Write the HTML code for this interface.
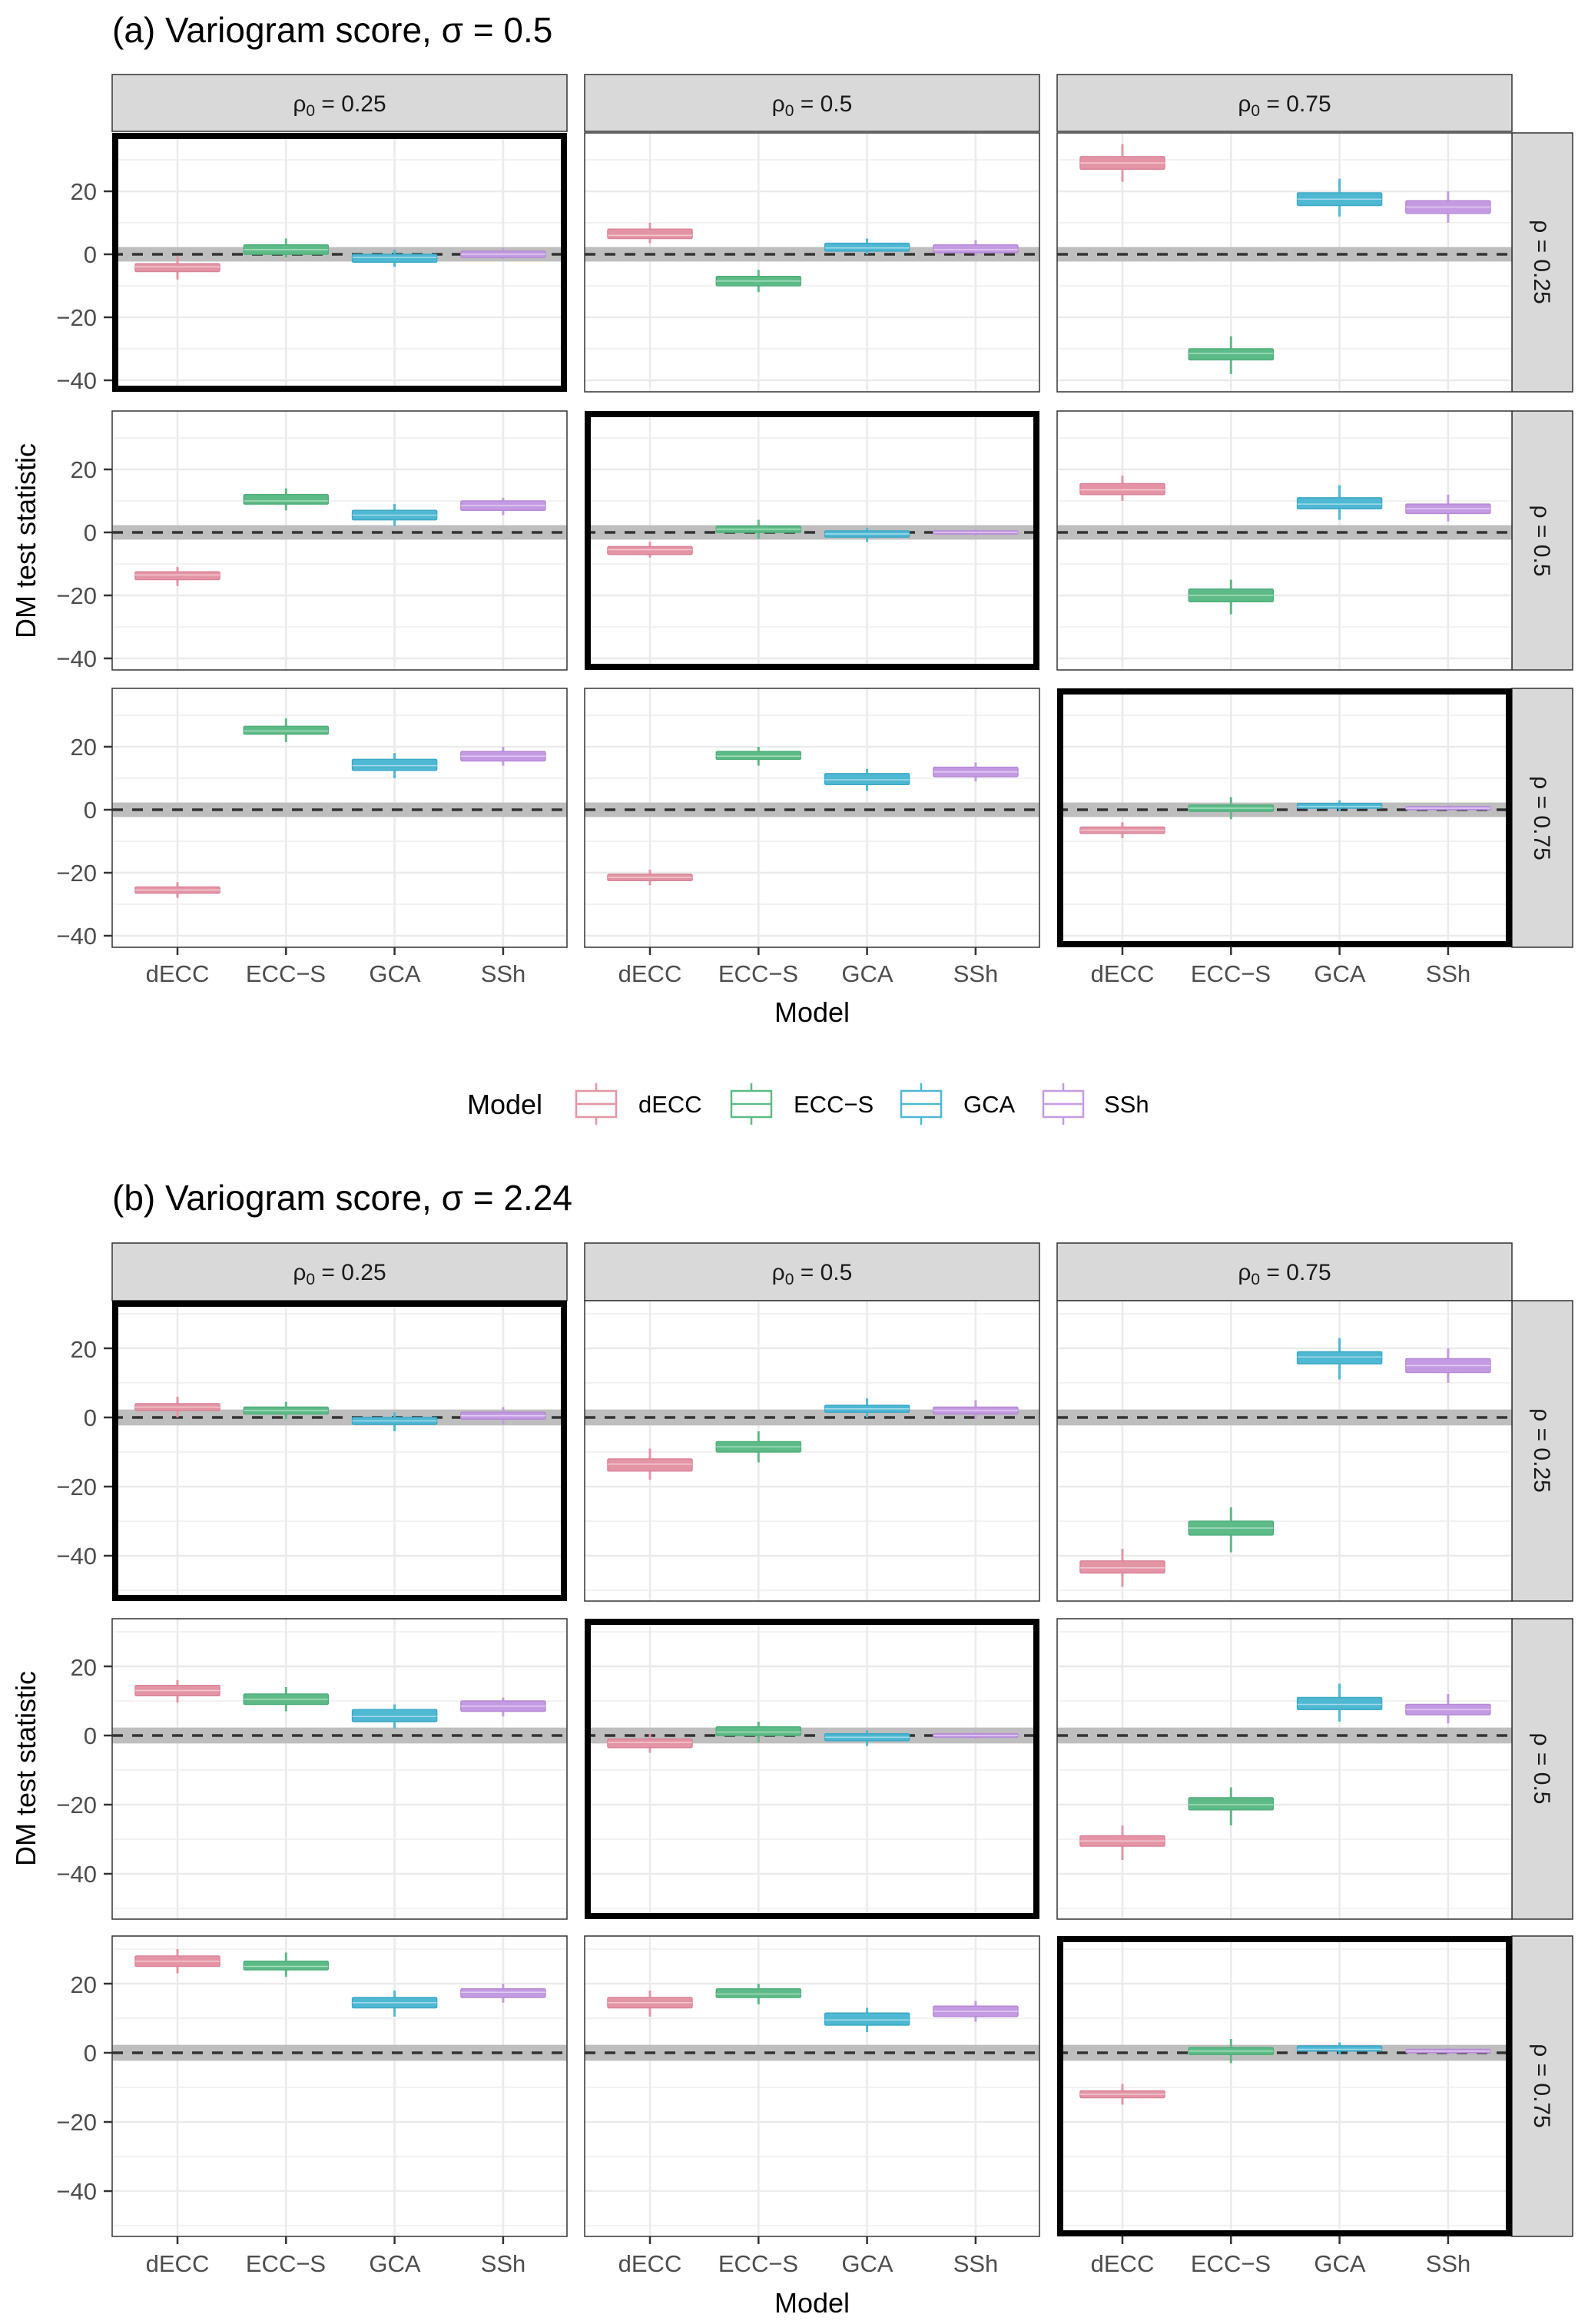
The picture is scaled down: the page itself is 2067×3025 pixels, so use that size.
<!DOCTYPE html>
<html><head><meta charset="utf-8"><style>
html,body{margin:0;padding:0;background:#fff}
svg{display:block}
text{font-family:"Liberation Sans",sans-serif}
.t{font-size:31px;fill:#4d4d4d}
.s{font-size:30px;fill:#1a1a1a}
.ti{font-size:46px;fill:#000}
.ax{font-size:36px;fill:#000}
.lg{font-size:31px;fill:#000}
</style></head><body>
<svg id="c" width="2067" height="3025" viewBox="0 0 2067 3025" xmlns="http://www.w3.org/2000/svg">
<g id="geo"></g>
<!-- titles -->
<text class="ti" x="146" y="55">(a) Variogram score,  σ = 0.5</text>
<text class="ti" x="146" y="1575">(b) Variogram score,  σ = 2.24</text>
<!-- strip labels a -->
<text class="s" x="442" y="145" text-anchor="middle">ρ<tspan font-size="21" dy="6">0</tspan><tspan dy="-6"> = 0.25</tspan></text>
<text class="s" x="1057" y="145" text-anchor="middle">ρ<tspan font-size="21" dy="6">0</tspan><tspan dy="-6"> = 0.5</tspan></text>
<text class="s" x="1672" y="145" text-anchor="middle">ρ<tspan font-size="21" dy="6">0</tspan><tspan dy="-6"> = 0.75</tspan></text>
<text class="s" x="442" y="1666" text-anchor="middle">ρ<tspan font-size="21" dy="6">0</tspan><tspan dy="-6"> = 0.25</tspan></text>
<text class="s" x="1057" y="1666" text-anchor="middle">ρ<tspan font-size="21" dy="6">0</tspan><tspan dy="-6"> = 0.5</tspan></text>
<text class="s" x="1672" y="1666" text-anchor="middle">ρ<tspan font-size="21" dy="6">0</tspan><tspan dy="-6"> = 0.75</tspan></text>
<!-- right strips -->
<text class="s" transform="translate(1997,341) rotate(90)" text-anchor="middle">ρ = 0.25</text>
<text class="s" transform="translate(1997,704) rotate(90)" text-anchor="middle">ρ = 0.5</text>
<text class="s" transform="translate(1997,1065) rotate(90)" text-anchor="middle">ρ = 0.75</text>
<text class="s" transform="translate(1997,1888) rotate(90)" text-anchor="middle">ρ = 0.25</text>
<text class="s" transform="translate(1997,2302) rotate(90)" text-anchor="middle">ρ = 0.5</text>
<text class="s" transform="translate(1997,2715) rotate(90)" text-anchor="middle">ρ = 0.75</text>
<!-- y ticks a -->
<g class="t" text-anchor="end">
<text x="126" y="260">20</text><text x="126" y="342">0</text><text x="126" y="424">−20</text><text x="126" y="506">−40</text>
<text x="126" y="622">20</text><text x="126" y="704">0</text><text x="126" y="786">−20</text><text x="126" y="868">−40</text>
<text x="126" y="983">20</text><text x="126" y="1065">0</text><text x="126" y="1147">−20</text><text x="126" y="1229">−40</text>
<text x="126" y="1767">20</text><text x="126" y="1856">0</text><text x="126" y="1946">−20</text><text x="126" y="2036">−40</text>
<text x="126" y="2181">20</text><text x="126" y="2270">0</text><text x="126" y="2360">−20</text><text x="126" y="2450">−40</text>
<text x="126" y="2594">20</text><text x="126" y="2683">0</text><text x="126" y="2773">−20</text><text x="126" y="2863">−40</text>
</g>
<!-- x ticks -->
<g class="t" text-anchor="middle">
<text x="231" y="1278">dECC</text><text x="372" y="1278">ECC−S</text><text x="514" y="1278">GCA</text><text x="655" y="1278">SSh</text>
<text x="846" y="1278">dECC</text><text x="987" y="1278">ECC−S</text><text x="1129" y="1278">GCA</text><text x="1270" y="1278">SSh</text>
<text x="1461" y="1278">dECC</text><text x="1602" y="1278">ECC−S</text><text x="1744" y="1278">GCA</text><text x="1885" y="1278">SSh</text>
<text x="231" y="2957">dECC</text><text x="372" y="2957">ECC−S</text><text x="514" y="2957">GCA</text><text x="655" y="2957">SSh</text>
<text x="846" y="2957">dECC</text><text x="987" y="2957">ECC−S</text><text x="1129" y="2957">GCA</text><text x="1270" y="2957">SSh</text>
<text x="1461" y="2957">dECC</text><text x="1602" y="2957">ECC−S</text><text x="1744" y="2957">GCA</text><text x="1885" y="2957">SSh</text>
</g>
<text class="ax" x="1057" y="1330" text-anchor="middle">Model</text>
<text class="ax" x="1057" y="3010" text-anchor="middle">Model</text>
<text class="ax" transform="translate(46,704) rotate(-90)" text-anchor="middle">DM test statistic</text>
<text class="ax" transform="translate(46,2302) rotate(-90)" text-anchor="middle">DM test statistic</text>
<!-- legend -->
<text class="ax" x="608" y="1450">Model</text>
<text class="lg" x="831" y="1448">dECC</text>
<text class="lg" x="1033" y="1448">ECC−S</text>
<text class="lg" x="1254" y="1448">GCA</text>
<text class="lg" x="1437" y="1448">SSh</text>
</svg>
<script>
(function(){
var NS="http://www.w3.org/2000/svg",g=document.getElementById("geo");
function el(n,a){var e=document.createElementNS(NS,n);for(var k in a)e.setAttribute(k,a[k]);g.appendChild(e);return e;}
var col=["#E495A5","#5DBB87","#4FB8D3","#C49BE3"],dk=["#D9849A","#4FAE7A","#3DA9C6","#B58AD6"],lt=["#F2C9D1","#A9DCBE","#A5DAE9","#E1CCF1"];
var PX=[146,761,1376],PW=592;
var A={tops:[173,535,896],h:337,z:158,u:4.1,grid:[30,20,10,0,-10,-20,-30,-40],st:[97,171]};
var B={tops:[1693,2107,2520],h:391,z:152,u:4.5,grid:[30,20,10,0,-10,-20,-30,-40,-50],st:[1618,1693]};
var DA=[
[[[-4,-5.5,-3,-8,-0.5],[1.5,0,3,-1,5],[-1,-2.5,0,-4,1.5],[0,-1,1,-1.5,2]],
 [[6,5,8,3.5,10],[-8.5,-10,-7,-12,-5],[2,1,3.5,0,5],[1.5,0.5,3,-0.5,4.5]],
 [[29,27,31,23,35],[-31.5,-33.5,-30,-38,-26],[17.5,15.5,19.5,12,24],[15,13,17,10,20]]],
[[[-13.5,-15,-12.5,-17,-11],[10,9,12,7,14],[5.5,4,7,2,9],[8.5,7,10,5.5,11]],
 [[-5.5,-7,-4.5,-8,-3],[1,0,2,-2,4],[-0.5,-1.5,0.5,-3,1.5],[0,-0.5,0.5,-1,1]],
 [[13.5,12,15.5,10,18],[-20,-22,-18,-26,-15],[9,7.5,11,4,15],[7.5,6,9,3.5,12]]],
[[[-25.5,-26.5,-24.5,-28,-23],[25,24,26.5,21.5,29],[14,12.5,16,10,18],[17,15.5,18.5,14,20]],
 [[-21.5,-22.5,-20.5,-24,-19],[17,16,18.5,14,20],[9.5,8,11.5,6,13],[12,10.5,13.5,9,15]],
 [[-6.5,-7.5,-5.5,-9,-4],[0.5,-0.5,1.5,-3,4],[1,0.5,2,-0.5,3],[0.5,0,1,-0.5,1.5]]]];
var DB=[
[[[3,2,4,0,6],[2,1,3,-0.5,4.5],[-1,-2,0,-4,1.5],[0.5,-0.5,1.5,-2,3]],
 [[-13.5,-15.5,-12,-18,-9],[-8.5,-10,-7,-13,-4],[2.5,1.5,3.5,0,5.5],[2,1,3,-0.5,5]],
 [[-43.5,-45,-41.5,-49,-38],[-32,-34,-30,-39,-26],[17.5,15.5,19,11,23],[15,13,17,10,20]]],
[[[13,11.5,14.5,9.5,16],[10.5,9,12,7,14],[5.5,4,7.5,2,9],[8.5,7,10,5.5,11]],
 [[-2,-3.5,-1,-5,0.5],[1,0,2.5,-2,4],[-0.5,-1.5,0.5,-3,1.5],[0,-0.5,0.5,-1,1]],
 [[-30.5,-32,-29,-36,-26],[-20,-21.5,-18,-26,-15],[9,7.5,11,4,15],[7.5,6,9,3.5,12]]],
[[[26.5,25,28,23,30],[25,24,26.5,22,29],[14.5,13,16,10.5,18],[17.5,16,18.5,14.5,20]],
 [[14.5,13,16,10.5,18],[17,16,18.5,14,20],[9.5,8,11.5,6,13],[12,10.5,13.5,9,15]],
 [[-12,-13,-11,-15,-9],[0.5,-0.5,1.5,-3,4],[1,0.5,2,-0.5,3],[0.5,0,1,-0.5,1.5]]]];
function part(P,D){
  for(var c=0;c<3;c++){
    el("rect",{x:PX[c],y:P.st[0],width:PW,height:P.st[1]-P.st[0],fill:"#D9D9D9",stroke:"#333","stroke-width":1.5});
  }
  for(var r=0;r<3;r++){
    var T=P.tops[r];
    el("rect",{x:PX[2]+PW,y:T,width:79,height:P.h,fill:"#D9D9D9",stroke:"#333","stroke-width":1.5});
    if(true){el("line",{x1:135,x2:146,y1:0,y2:0,stroke:"none"});}
    for(var c=0;c<3;c++){
      var X=PX[c];
      el("rect",{x:X,y:T,width:PW,height:P.h,fill:"#fff"});
      P.grid.forEach(function(v){var y=T+P.z-v*P.u;var maj=(v%20===0);
        el("line",{x1:X,x2:X+PW,y1:y,y2:y,stroke:"#EBEBEB","stroke-width":maj?2.6:1.3});});
      for(var i=0;i<4;i++){var x=X+85+i*141.3;el("line",{x1:x,x2:x,y1:T,y2:T+P.h,stroke:"#EBEBEB","stroke-width":2.6});}
      var z=T+P.z;
      el("rect",{x:X,y:z-2.3*P.u,width:PW,height:4.6*P.u,fill:"#BEBEBE"});
      el("line",{x1:X,x2:X+PW,y1:z,y2:z,stroke:"#333","stroke-width":3.5,"stroke-dasharray":"14 12"});
      for(var i=0;i<4;i++){
        var d=D[r][c][i],x=X+85+i*141.3,f=function(v){return T+P.z-v*P.u;};
        el("line",{x1:x,x2:x,y1:f(d[4]),y2:f(d[3]),stroke:col[i],"stroke-width":3});
        el("rect",{x:x-55,y:f(d[2]),width:110,height:Math.max(3,f(d[1])-f(d[2])),fill:col[i],stroke:dk[i],"stroke-width":1.5,rx:1.5});
        el("line",{x1:x-55,x2:x+55,y1:f(d[0]),y2:f(d[0]),stroke:lt[i],"stroke-width":1.5});
      }
      if(r===c){el("rect",{x:X+4,y:T+4,width:PW-8,height:P.h-8,fill:"none",stroke:"#000","stroke-width":8});}
      else el("rect",{x:X,y:T,width:PW,height:P.h,fill:"none",stroke:"#333","stroke-width":1.5});
      if(r===2){for(var i=0;i<4;i++){var x=X+85+i*141.3;el("line",{x1:x,x2:x,y1:T+P.h,y2:T+P.h+10,stroke:"#333","stroke-width":2.5});}}
      if(c===0){[20,0,-20,-40].forEach(function(v){var y=T+P.z-v*P.u;el("line",{x1:135,x2:146,y1:y,y2:y,stroke:"#333","stroke-width":2.5});});}
    }
  }
}
part(A,DA);part(B,DB);
var kx=[750,952,1173,1358];
for(var i=0;i<4;i++){var x=kx[i],cx=x+26,cy=1437;
  el("line",{x1:cx,x2:cx,y1:cy-27,y2:cy+27,stroke:col[i],"stroke-width":2.5});
  el("rect",{x:x,y:cy-17,width:52,height:34,fill:"#fff",stroke:col[i],"stroke-width":2.5});
  el("line",{x1:x,x2:x+52,y1:cy,y2:cy,stroke:col[i],"stroke-width":2.5});}
})();
</script>
</body></html>
